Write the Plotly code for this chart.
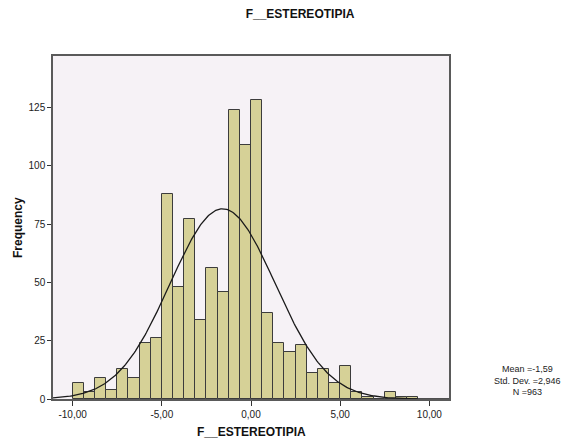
import numpy as np
import plotly.graph_objects as go

# Histogram data (bin start = -10, bin width = 0.625)
bin_start = -10.0
bin_width = 0.625
counts = [7, 3, 9, 4, 13, 9, 24, 26, 88, 48, 77, 34, 56, 46, 124, 109, 128,
          37, 24, 20, 23, 11, 13, 7, 14, 3, 1, 0, 3, 1, 1]

# Summary statistics shown on the chart
mean_val = -1.59
std_val = 2.946
n_val = 963

x_tick_vals = [-10, -5, 0, 5, 10]
x_tick_text = ["-10,00", "-5,00", "0,00", "5,00", "10,00"]
y_tick_vals = [0, 25, 50, 75, 100, 125]

title_text = "F__ESTEREOTIPIA"
x_title = "F__ESTEREOTIPIA"
y_title = "Frequency"

centers = [bin_start + bin_width * (i + 0.5) for i in range(len(counts))]

x_range = [-11.1, 11.1]
xc = np.linspace(x_range[0], x_range[1], 400)
yc = n_val * bin_width / (std_val * np.sqrt(2 * np.pi)) * np.exp(-0.5 * ((xc - mean_val) / std_val) ** 2)

fig = go.Figure()
fig.add_trace(go.Bar(
    x=centers, y=counts, width=bin_width,
    marker=dict(color="#D6D197", line=dict(color="#3C3C3C", width=1)),
    showlegend=False, hoverinfo="x+y",
))
fig.add_trace(go.Scatter(
    x=xc, y=yc, mode="lines",
    line=dict(color="#1A1A1A", width=1.3),
    showlegend=False, hoverinfo="skip",
))

font_family = "Liberation Sans, Arial, sans-serif"
W, H = 564, 443
ML, MR, MT, MB = 53, 115, 56, 44
PW, PH = W - ML - MR, H - MT - MB

def px_x(px):
    return (px - ML) / PW

def px_y(py):
    return (H - MB - py) / PH

fig.update_layout(
    width=W, height=H,
    margin=dict(l=ML, r=MR, t=MT, b=MB, autoexpand=False),
    paper_bgcolor="white",
    plot_bgcolor="#F6F2F6",
    bargap=0,
    font=dict(family=font_family, size=10, color="#222222"),
    title=dict(text="<b>" + title_text + "</b>", x=0.532, xanchor="center",
               y=0.968, yanchor="middle",
               font=dict(size=12, color="#111111", family=font_family)),
    xaxis=dict(
        range=x_range, tickvals=x_tick_vals, ticktext=x_tick_text,
        showgrid=False, zeroline=False, automargin=False,
        showline=True, linecolor="#5A5A5A", linewidth=1.5, mirror=True,
        ticks="outside", ticklen=5, tickcolor="#333333", tickwidth=1.3,
        tickfont=dict(size=10, color="#222222"),
    ),
    yaxis=dict(
        range=[0, 147], tickvals=y_tick_vals,
        showgrid=False, zeroline=False, automargin=False,
        showline=True, linecolor="#5A5A5A", linewidth=1.5, mirror=True,
        ticks="outside", ticklen=4, tickcolor="#333333", tickwidth=1.3,
        tickfont=dict(size=10, color="#222222"),
    ),
    annotations=[
        dict(xref="paper", yref="paper", x=px_x(251), y=px_y(432),
             xanchor="center", yanchor="middle",
             text="<b>" + x_title + "</b>", showarrow=False,
             font=dict(size=12, color="#111111", family=font_family)),
        dict(xref="paper", yref="paper", x=px_x(18), y=px_y(228),
             xanchor="center", yanchor="middle", textangle=-90,
             text="<b>" + y_title + "</b>", showarrow=False,
             font=dict(size=12, color="#111111", family=font_family)),
        dict(xref="paper", yref="paper", x=px_x(527), y=px_y(380),
             xanchor="center", yanchor="middle",
             text="Mean =-1,59<br>Std. Dev. =2,946<br>N =963",
             showarrow=False, align="center",
             font=dict(size=9, color="#222222", family=font_family)),
    ],
)

fig.write_html("out.html")
